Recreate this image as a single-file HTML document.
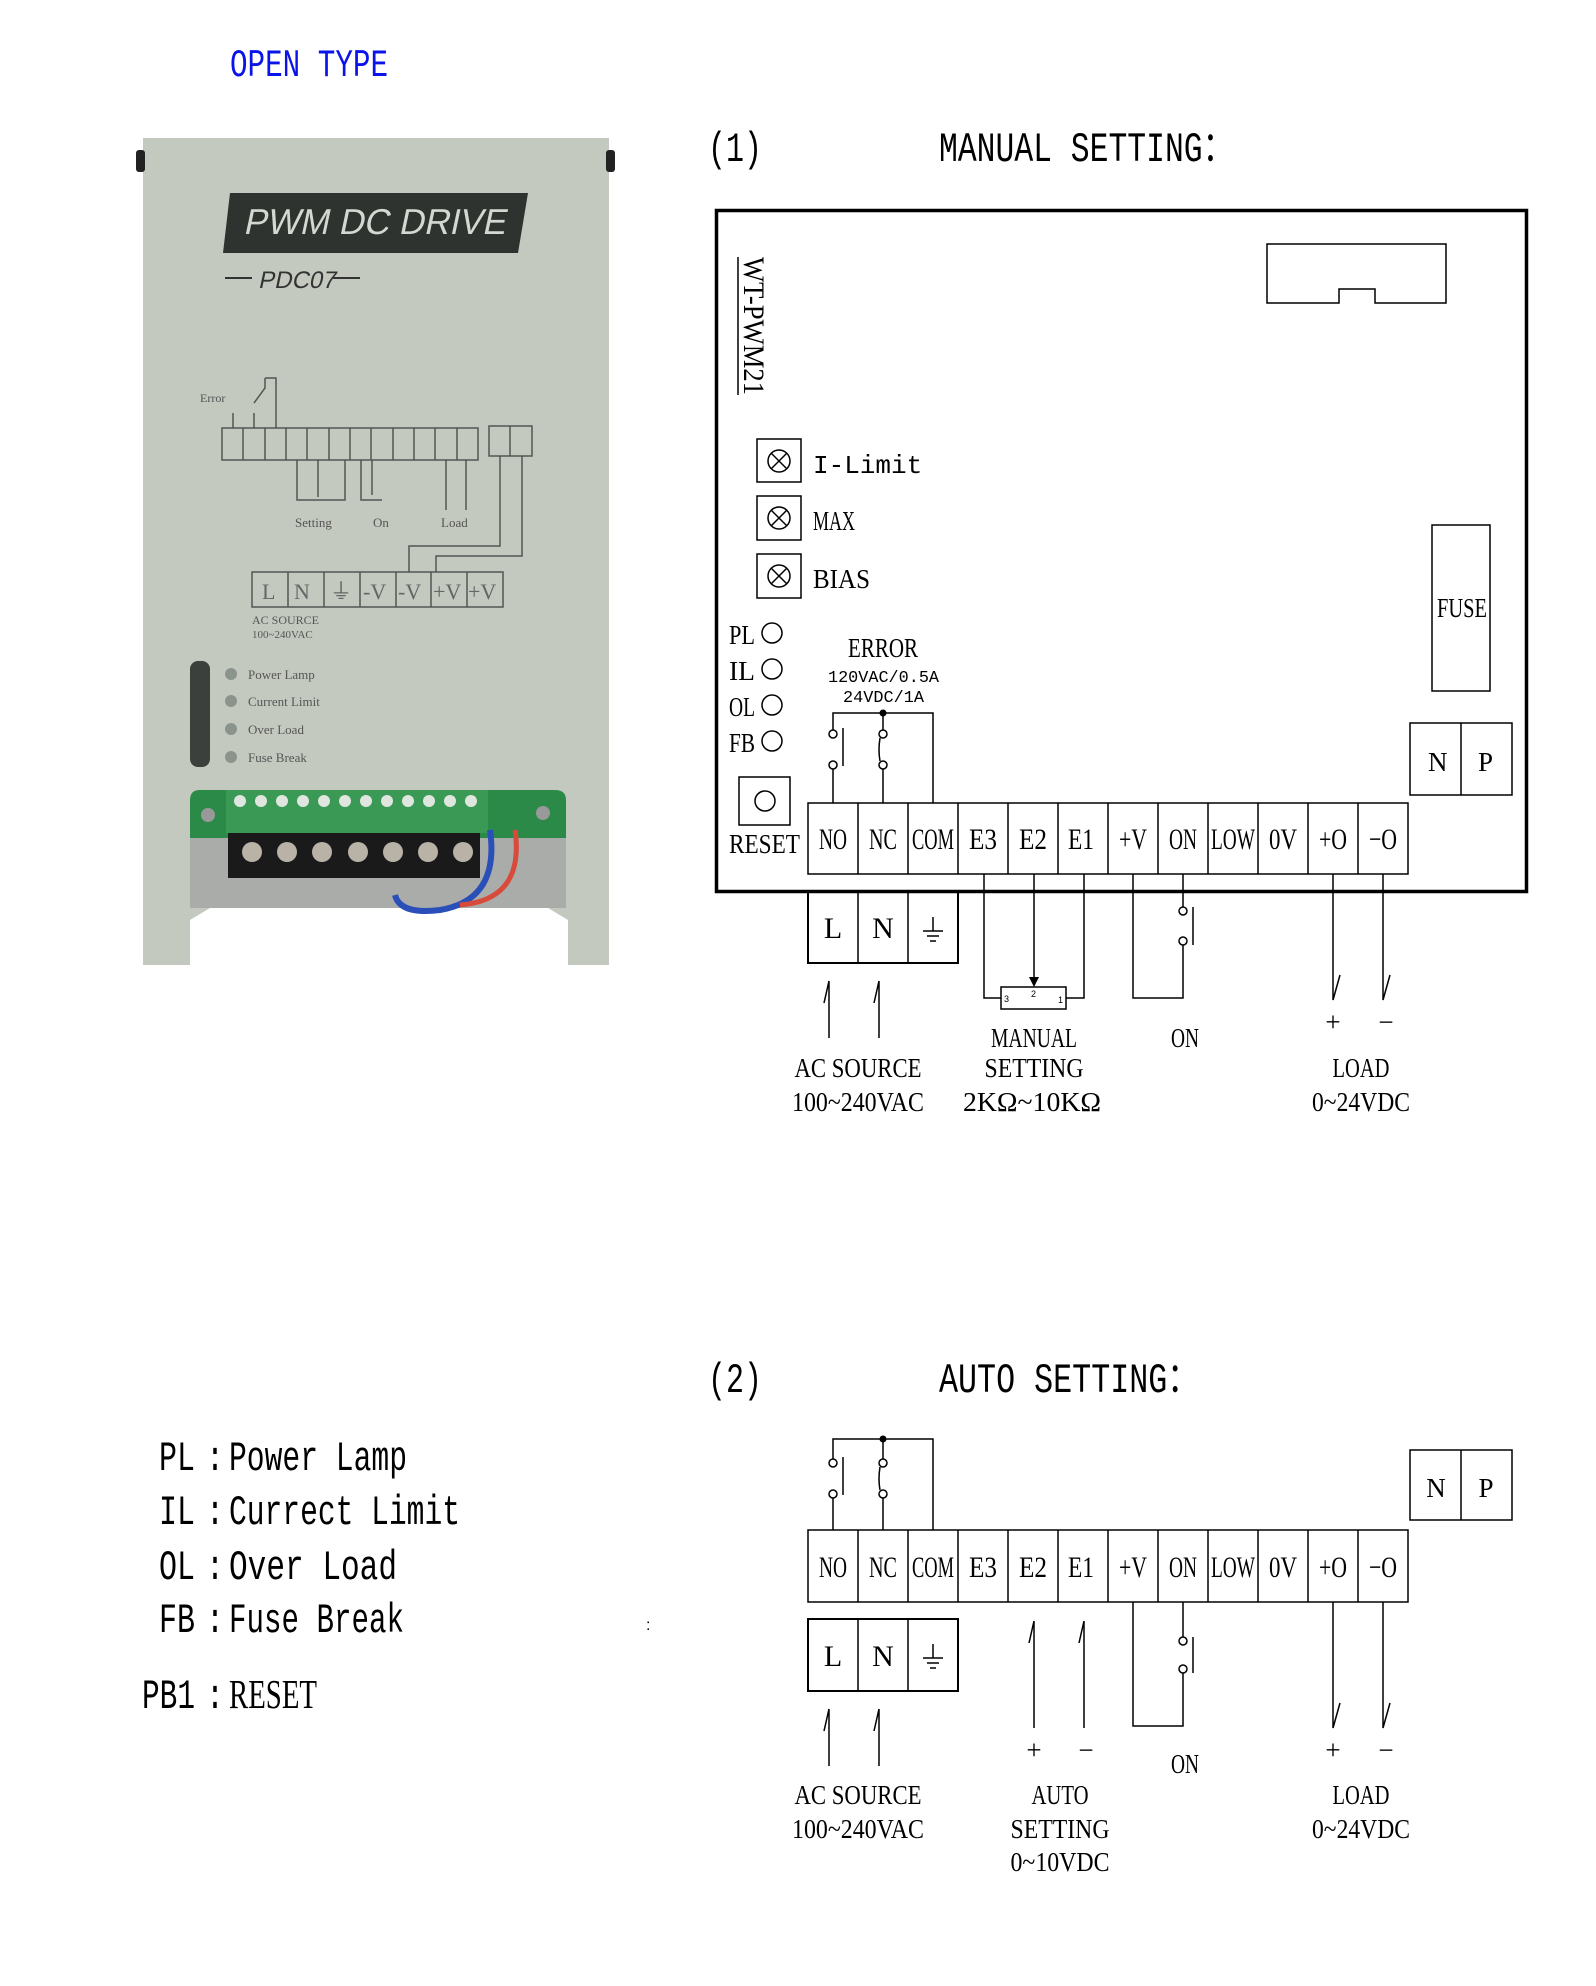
<!DOCTYPE html>
<html><head><meta charset="utf-8"><style>
html,body{margin:0;padding:0;background:#fff}
svg{display:block}
.m{font-family:"Liberation Mono",monospace}
.s{font-family:"Liberation Serif",serif}
</style></head><body>
<svg width="1596" height="1986" viewBox="0 0 1596 1986" xmlns="http://www.w3.org/2000/svg">
<!-- OPEN TYPE -->
<text class="m" transform="translate(230,76) scale(1,1.35)" font-size="29" fill="#0a14e8" textLength="158" lengthAdjust="spacingAndGlyphs">OPEN TYPE</text>

<!-- PHOTO -->
<g>
<rect x="143" y="138" width="466" height="827" fill="#c3c9bf"/>
<rect x="136" y="150" width="9" height="22" rx="3" fill="#222"/>
<rect x="606" y="150" width="9" height="22" rx="3" fill="#222"/>
<polygon points="230,193 528,193 518,253 223,253" fill="#2f3330"/>
<text transform="translate(243,234) skewX(-12)" font-family="Liberation Sans,sans-serif" font-size="36" fill="#d4d8d0" textLength="262" lengthAdjust="spacingAndGlyphs">PWM DC DRIVE</text>
<line x1="225" y1="278" x2="252" y2="278" stroke="#333" stroke-width="2"/>
<text transform="translate(258,288) skewX(-12)" font-family="Liberation Sans,sans-serif" font-size="24" fill="#333">PDC07</text>
<line x1="333" y1="278" x2="360" y2="278" stroke="#333" stroke-width="2"/>
<g stroke="#555" stroke-width="1.5" fill="none">
<rect x="222" y="428" width="256" height="32"/>
<path d="M243 428V460M265 428V460M286 428V460M307 428V460M329 428V460M350 428V460M371 428V460M393 428V460M414 428V460M435 428V460M457 428V460"/>
<rect x="489" y="426" width="43" height="30"/><path d="M510 426V456"/>
<path d="M233 428V413M254 428V413M276 428V378H265M276 378"/>
<path d="M265 378V388L254 403"/>
<path d="M297 460V500H345V460M318 460V497M361 460V500H382M372 460V495"/>
<path d="M446 460V510M466 460V510M500 456V546H409V572M522 456V556H436V572"/>
<rect x="252" y="572" width="251" height="35"/>
<path d="M288 572V607M324 572V607M360 572V607M396 572V607M431 572V607M467 572V607"/>
</g>
<text x="200" y="402" font-family="Liberation Serif,serif" font-size="12" fill="#555">Error</text>
<text x="295" y="527" font-family="Liberation Serif,serif" font-size="13" fill="#555">Setting</text>
<text x="373" y="527" font-family="Liberation Serif,serif" font-size="13" fill="#555">On</text>
<text x="441" y="527" font-family="Liberation Serif,serif" font-size="13" fill="#555">Load</text>
<g font-family="Liberation Serif,serif" font-size="22" fill="#666">
<text x="262" y="599">L</text><text x="294" y="599">N</text><text x="330" y="599">⏚</text><text x="363" y="599">-V</text><text x="398" y="599">-V</text><text x="433" y="599">+V</text><text x="468" y="599">+V</text>
</g>
<text x="252" y="624" font-family="Liberation Serif,serif" font-size="12" fill="#555">AC SOURCE</text>
<text x="252" y="638" font-family="Liberation Serif,serif" font-size="11" fill="#555">100~240VAC</text>
<rect x="190" y="661" width="20" height="106" rx="8" fill="#3c403c"/>
<g font-family="Liberation Serif,serif" font-size="13" fill="#555">
<circle cx="231" cy="674" r="6" fill="#8a948d"/><text x="248" y="679">Power Lamp</text>
<circle cx="231" cy="701" r="6" fill="#8a948d"/><text x="248" y="706">Current Limit</text>
<circle cx="231" cy="729" r="6" fill="#8a948d"/><text x="248" y="734">Over Load</text>
<circle cx="231" cy="757" r="6" fill="#8a948d"/><text x="248" y="762">Fuse Break</text>
</g>
<path d="M190 838V800Q190 790 200 790H555Q566 790 566 800V838Z" fill="#2c8a48"/>
<rect x="226" y="790" width="262" height="43" fill="#3a9a55"/>
<g fill="#dfe6df"><circle cx="240" cy="801" r="6"/><circle cx="261" cy="801" r="6"/><circle cx="282" cy="801" r="6"/><circle cx="303" cy="801" r="6"/><circle cx="324" cy="801" r="6"/><circle cx="345" cy="801" r="6"/><circle cx="366" cy="801" r="6"/><circle cx="387" cy="801" r="6"/><circle cx="408" cy="801" r="6"/><circle cx="429" cy="801" r="6"/><circle cx="450" cy="801" r="6"/><circle cx="471" cy="801" r="6"/></g>
<circle cx="208" cy="815" r="7" fill="#999"/><circle cx="543" cy="813" r="7" fill="#999"/>
<rect x="190" y="838" width="376" height="70" fill="#a9aca8"/>
<rect x="228" y="833" width="252" height="45" fill="#1a1a1a"/>
<g fill="#b8b3a6"><circle cx="252" cy="852" r="10"/><circle cx="287" cy="852" r="10"/><circle cx="322" cy="852" r="10"/><circle cx="358" cy="852" r="10"/><circle cx="393" cy="852" r="10"/><circle cx="428" cy="852" r="10"/><circle cx="463" cy="852" r="10"/></g>
<path d="M190 965V920L210 908H548L568 920V965Z" fill="#fff"/>
<path d="M490 830Q500 900 440 910Q400 915 395 895" stroke="#2a4fb8" stroke-width="6" fill="none"/>
<path d="M515 830Q525 900 460 905" stroke="#d84a3a" stroke-width="5" fill="none"/>
</g>

<!-- SECTION 1 -->
<text class="m" transform="translate(708,161) scale(1,1.4)" font-size="30">(1)</text>
<text class="m" transform="translate(939,161) scale(1,1.4)" font-size="30" textLength="295" lengthAdjust="spacingAndGlyphs">MANUAL SETTING：</text>

<rect x="716.5" y="210.5" width="810" height="681" fill="none" stroke="#000" stroke-width="3.5"/>
<path d="M1267 244H1446V303H1375V289H1339V303H1267Z" fill="none" stroke="#000" stroke-width="1.5"/>
<line x1="738" y1="257" x2="738" y2="395" stroke="#000" stroke-width="1.5"/>
<text class="s" transform="translate(744,257) rotate(90)" font-size="30" textLength="138" lengthAdjust="spacingAndGlyphs">WT-PWM21</text>

<g stroke="#000" stroke-width="1.5" fill="none">
<rect x="757" y="439" width="44" height="43"/><rect x="757" y="496" width="44" height="44"/><rect x="757" y="554" width="44" height="44"/>
<circle cx="779" cy="461" r="11"/><circle cx="779" cy="518" r="11"/><circle cx="779" cy="576" r="11"/>
<path d="M771 453L787 469M787 453L771 469M771 510L787 526M787 510L771 526M771 568L787 584M787 568L771 584"/>
<circle cx="772" cy="633" r="10"/><circle cx="772" cy="669" r="10"/><circle cx="772" cy="705" r="10"/><circle cx="772" cy="741" r="10"/>
<rect x="739" y="777" width="51" height="48"/><circle cx="765" cy="801" r="10"/>
<rect x="1432" y="525" width="58" height="166"/>
<rect x="1410" y="723" width="102" height="72"/><line x1="1461" y1="723" x2="1461" y2="795"/>
</g>
<g class="s" font-size="27">
<text x="813" y="473" class="m" font-size="26">I-Limit</text>
<text x="813" y="530" textLength="42" lengthAdjust="spacingAndGlyphs">MAX</text>
<text x="813" y="588" textLength="57" lengthAdjust="spacingAndGlyphs">BIAS</text>
<text x="729" y="644" textLength="26" lengthAdjust="spacingAndGlyphs">PL</text>
<text x="729" y="680" textLength="26" lengthAdjust="spacingAndGlyphs">IL</text>
<text x="729" y="716" textLength="26" lengthAdjust="spacingAndGlyphs">OL</text>
<text x="729" y="752" textLength="26" lengthAdjust="spacingAndGlyphs">FB</text>
<text x="729" y="853" textLength="71" lengthAdjust="spacingAndGlyphs">RESET</text>
<text x="1437" y="617" textLength="50" lengthAdjust="spacingAndGlyphs">FUSE</text>
<text x="1428" y="771">N</text><text x="1478" y="771">P</text>
<text x="848" y="657" textLength="70" lengthAdjust="spacingAndGlyphs">ERROR</text>
</g>
<text class="m" x="828" y="682" font-size="17" textLength="111" lengthAdjust="spacingAndGlyphs">120VAC/0.5A</text>
<text class="m" x="843" y="702" font-size="17" textLength="81" lengthAdjust="spacingAndGlyphs">24VDC/1A</text>

<!-- relay 1 -->
<g stroke="#000" stroke-width="1.5" fill="none">
<path d="M833 803V769M833 730V713H933V803M883 713V730M883 769V803"/>
<circle cx="833" cy="734" r="4"/><circle cx="833" cy="765" r="4"/>
<circle cx="883" cy="734" r="4"/><circle cx="883" cy="765" r="4"/>
<path d="M880 738Q878 750 880 761"/>
<path d="M843 728V766"/>
</g>
<circle cx="883" cy="713" r="3.5"/>

<!-- terminal row 1 -->
<g stroke="#000" stroke-width="1.5" fill="none">
<rect x="808" y="803" width="600" height="71"/>
<path d="M858 803V874M908 803V874M958 803V874M1008 803V874M1058 803V874M1108 803V874M1158 803V874M1208 803V874M1258 803V874M1308 803V874M1358 803V874"/>
</g>
<g class="s" font-size="30" text-anchor="middle">
<text x="833" y="849" textLength="28" lengthAdjust="spacingAndGlyphs">NO</text>
<text x="883" y="849" textLength="28" lengthAdjust="spacingAndGlyphs">NC</text>
<text x="933" y="849" textLength="42" lengthAdjust="spacingAndGlyphs">COM</text>
<text x="983" y="849" textLength="28" lengthAdjust="spacingAndGlyphs">E3</text>
<text x="1033" y="849" textLength="28" lengthAdjust="spacingAndGlyphs">E2</text>
<text x="1081" y="849" textLength="26" lengthAdjust="spacingAndGlyphs">E1</text>
<text x="1133" y="849" textLength="28" lengthAdjust="spacingAndGlyphs">+V</text>
<text x="1183" y="849" textLength="28" lengthAdjust="spacingAndGlyphs">ON</text>
<text x="1233" y="849" textLength="44" lengthAdjust="spacingAndGlyphs">LOW</text>
<text x="1283" y="849" textLength="28" lengthAdjust="spacingAndGlyphs">0V</text>
<text x="1333" y="849" textLength="28" lengthAdjust="spacingAndGlyphs">+O</text>
<text x="1383" y="849" textLength="28" lengthAdjust="spacingAndGlyphs">−O</text>
</g>

<!-- LN box 1 -->
<g stroke="#000" stroke-width="1.5" fill="none">
<rect x="808" y="892" width="150" height="71" stroke-width="2"/>
<path d="M858 892V963M908 892V963"/>
<path d="M933 917V931M923 931H943M927 936H939M930 941H936"/>
</g>
<g class="s" font-size="30" text-anchor="middle"><text x="833" y="938">L</text><text x="883" y="938">N</text></g>

<!-- wires below 1 -->
<g stroke="#000" stroke-width="1.5" fill="none">
<path d="M829 1038V981L824 1003M879 1038V981L874 1003"/>
<path d="M984 874V998H1001M1084 874V998H1066"/>
<rect x="1001" y="987" width="65" height="22"/>
<path d="M1034 874V982"/>
<path d="M1133 874V998H1183V945M1183 874V907M1193 907V945"/>
<circle cx="1183" cy="911" r="4"/><circle cx="1183" cy="941" r="4"/>
<path d="M1333 874V1000L1340 975M1383 874V1000L1390 975"/>
</g>
<path d="M1029 977L1039 977L1034 987Z"/>
<g font-family="Liberation Sans,sans-serif" font-size="9"><text x="1004" y="1002">3</text><text x="1031" y="997">2</text><text x="1058" y="1003">1</text></g>

<g class="s" font-size="27" text-anchor="middle">
<text x="1333" y="1031">+</text><text x="1386" y="1031">−</text>
<text x="1034" y="1047" textLength="86" lengthAdjust="spacingAndGlyphs">MANUAL</text>
<text x="1185" y="1047" textLength="28" lengthAdjust="spacingAndGlyphs">ON</text>
<text x="858" y="1077" textLength="127" lengthAdjust="spacingAndGlyphs">AC SOURCE</text>
<text x="1034" y="1077" textLength="99" lengthAdjust="spacingAndGlyphs">SETTING</text>
<text x="1361" y="1077" textLength="57" lengthAdjust="spacingAndGlyphs">LOAD</text>
<text x="858" y="1111" textLength="132" lengthAdjust="spacingAndGlyphs">100~240VAC</text>
<text x="1032" y="1111" textLength="138" lengthAdjust="spacingAndGlyphs">2KΩ~10KΩ</text>
<text x="1361" y="1111" textLength="98" lengthAdjust="spacingAndGlyphs">0~24VDC</text>
</g>

<!-- SECTION 2 -->
<text class="m" transform="translate(708,1392) scale(1,1.4)" font-size="30">(2)</text>
<text class="m" transform="translate(939,1392) scale(1,1.4)" font-size="30" textLength="260" lengthAdjust="spacingAndGlyphs">AUTO SETTING：</text>

<g stroke="#000" stroke-width="1.5" fill="none">
<path d="M833 1530V1498M833 1459V1439H933V1530M883 1439V1459M883 1498V1530"/>
<circle cx="833" cy="1463" r="4"/><circle cx="833" cy="1494" r="4"/>
<circle cx="883" cy="1463" r="4"/><circle cx="883" cy="1494" r="4"/>
<path d="M880 1467Q878 1479 880 1490"/>
<path d="M843 1457V1495"/>
<rect x="808" y="1530" width="600" height="72"/>
<path d="M858 1530V1602M908 1530V1602M958 1530V1602M1008 1530V1602M1058 1530V1602M1108 1530V1602M1158 1530V1602M1208 1530V1602M1258 1530V1602M1308 1530V1602M1358 1530V1602"/>
<rect x="1410" y="1450" width="102" height="70"/><line x1="1461" y1="1450" x2="1461" y2="1520"/>
<rect x="808" y="1619" width="150" height="72" stroke-width="2"/>
<path d="M858 1619V1691M908 1619V1691"/>
<path d="M933 1644V1658M923 1658H943M927 1663H939M930 1668H936"/>
<path d="M829 1766V1709L824 1731M879 1766V1709L874 1731"/>
<path d="M1034 1728V1621L1029 1643M1084 1728V1621L1079 1643"/>
<path d="M1133 1602V1726H1183V1673M1183 1602V1637M1193 1637V1673"/>
<circle cx="1183" cy="1641" r="4"/><circle cx="1183" cy="1669" r="4"/>
<path d="M1333 1602V1728L1340 1703M1383 1602V1728L1390 1703"/>
</g>
<circle cx="883" cy="1439" r="3.5"/>
<g class="s" font-size="30" text-anchor="middle">
<text x="1436" y="1497" font-size="27">N</text><text x="1486" y="1497" font-size="27">P</text>
<text x="833" y="1577" textLength="28" lengthAdjust="spacingAndGlyphs">NO</text>
<text x="883" y="1577" textLength="28" lengthAdjust="spacingAndGlyphs">NC</text>
<text x="933" y="1577" textLength="42" lengthAdjust="spacingAndGlyphs">COM</text>
<text x="983" y="1577" textLength="28" lengthAdjust="spacingAndGlyphs">E3</text>
<text x="1033" y="1577" textLength="28" lengthAdjust="spacingAndGlyphs">E2</text>
<text x="1081" y="1577" textLength="26" lengthAdjust="spacingAndGlyphs">E1</text>
<text x="1133" y="1577" textLength="28" lengthAdjust="spacingAndGlyphs">+V</text>
<text x="1183" y="1577" textLength="28" lengthAdjust="spacingAndGlyphs">ON</text>
<text x="1233" y="1577" textLength="44" lengthAdjust="spacingAndGlyphs">LOW</text>
<text x="1283" y="1577" textLength="28" lengthAdjust="spacingAndGlyphs">0V</text>
<text x="1333" y="1577" textLength="28" lengthAdjust="spacingAndGlyphs">+O</text>
<text x="1383" y="1577" textLength="28" lengthAdjust="spacingAndGlyphs">−O</text>
<text x="833" y="1666">L</text><text x="883" y="1666">N</text>
</g>
<g class="s" font-size="27" text-anchor="middle">
<text x="1034" y="1759">+</text><text x="1086" y="1759">−</text>
<text x="1333" y="1759">+</text><text x="1386" y="1759">−</text>
<text x="1185" y="1773" textLength="28" lengthAdjust="spacingAndGlyphs">ON</text>
<text x="858" y="1804" textLength="127" lengthAdjust="spacingAndGlyphs">AC SOURCE</text>
<text x="1060" y="1804" textLength="57" lengthAdjust="spacingAndGlyphs">AUTO</text>
<text x="1361" y="1804" textLength="57" lengthAdjust="spacingAndGlyphs">LOAD</text>
<text x="858" y="1838" textLength="132" lengthAdjust="spacingAndGlyphs">100~240VAC</text>
<text x="1060" y="1838" textLength="99" lengthAdjust="spacingAndGlyphs">SETTING</text>
<text x="1361" y="1838" textLength="98" lengthAdjust="spacingAndGlyphs">0~24VDC</text>
<text x="1060" y="1871" textLength="99" lengthAdjust="spacingAndGlyphs">0~10VDC</text>
</g>

<!-- LEGEND -->
<g class="m" font-size="30">
<text transform="translate(159,1470) scale(1,1.38)" textLength="36" lengthAdjust="spacingAndGlyphs">PL</text>
<text transform="translate(159,1524) scale(1,1.38)" textLength="36" lengthAdjust="spacingAndGlyphs">IL</text>
<text transform="translate(159,1579) scale(1,1.38)" textLength="36" lengthAdjust="spacingAndGlyphs">OL</text>
<text transform="translate(159,1632) scale(1,1.38)" textLength="36" lengthAdjust="spacingAndGlyphs">FB</text>
<text transform="translate(142,1708) scale(1,1.38)" textLength="53" lengthAdjust="spacingAndGlyphs">PB1</text>
<text transform="translate(206,1470) scale(1,1.38)">:</text>
<text transform="translate(206,1524) scale(1,1.38)">:</text>
<text transform="translate(206,1579) scale(1,1.38)">:</text>
<text transform="translate(206,1632) scale(1,1.38)">:</text>
<text transform="translate(206,1708) scale(1,1.38)">:</text>
<text transform="translate(229,1470) scale(1,1.38)" textLength="178" lengthAdjust="spacingAndGlyphs">Power Lamp</text>
<text transform="translate(229,1524) scale(1,1.38)" textLength="231" lengthAdjust="spacingAndGlyphs">Currect Limit</text>
<text transform="translate(229,1579) scale(1,1.38)" textLength="168" lengthAdjust="spacingAndGlyphs">Over Load</text>
<text transform="translate(229,1632) scale(1,1.38)" textLength="175" lengthAdjust="spacingAndGlyphs">Fuse Break</text>
<text class="s" transform="translate(229,1708) scale(1,1.38)" textLength="88" lengthAdjust="spacingAndGlyphs">RESET</text>
</g>
<text x="646" y="1630" font-family="Liberation Sans,sans-serif" font-size="16">:</text>
</svg>
</body></html>
